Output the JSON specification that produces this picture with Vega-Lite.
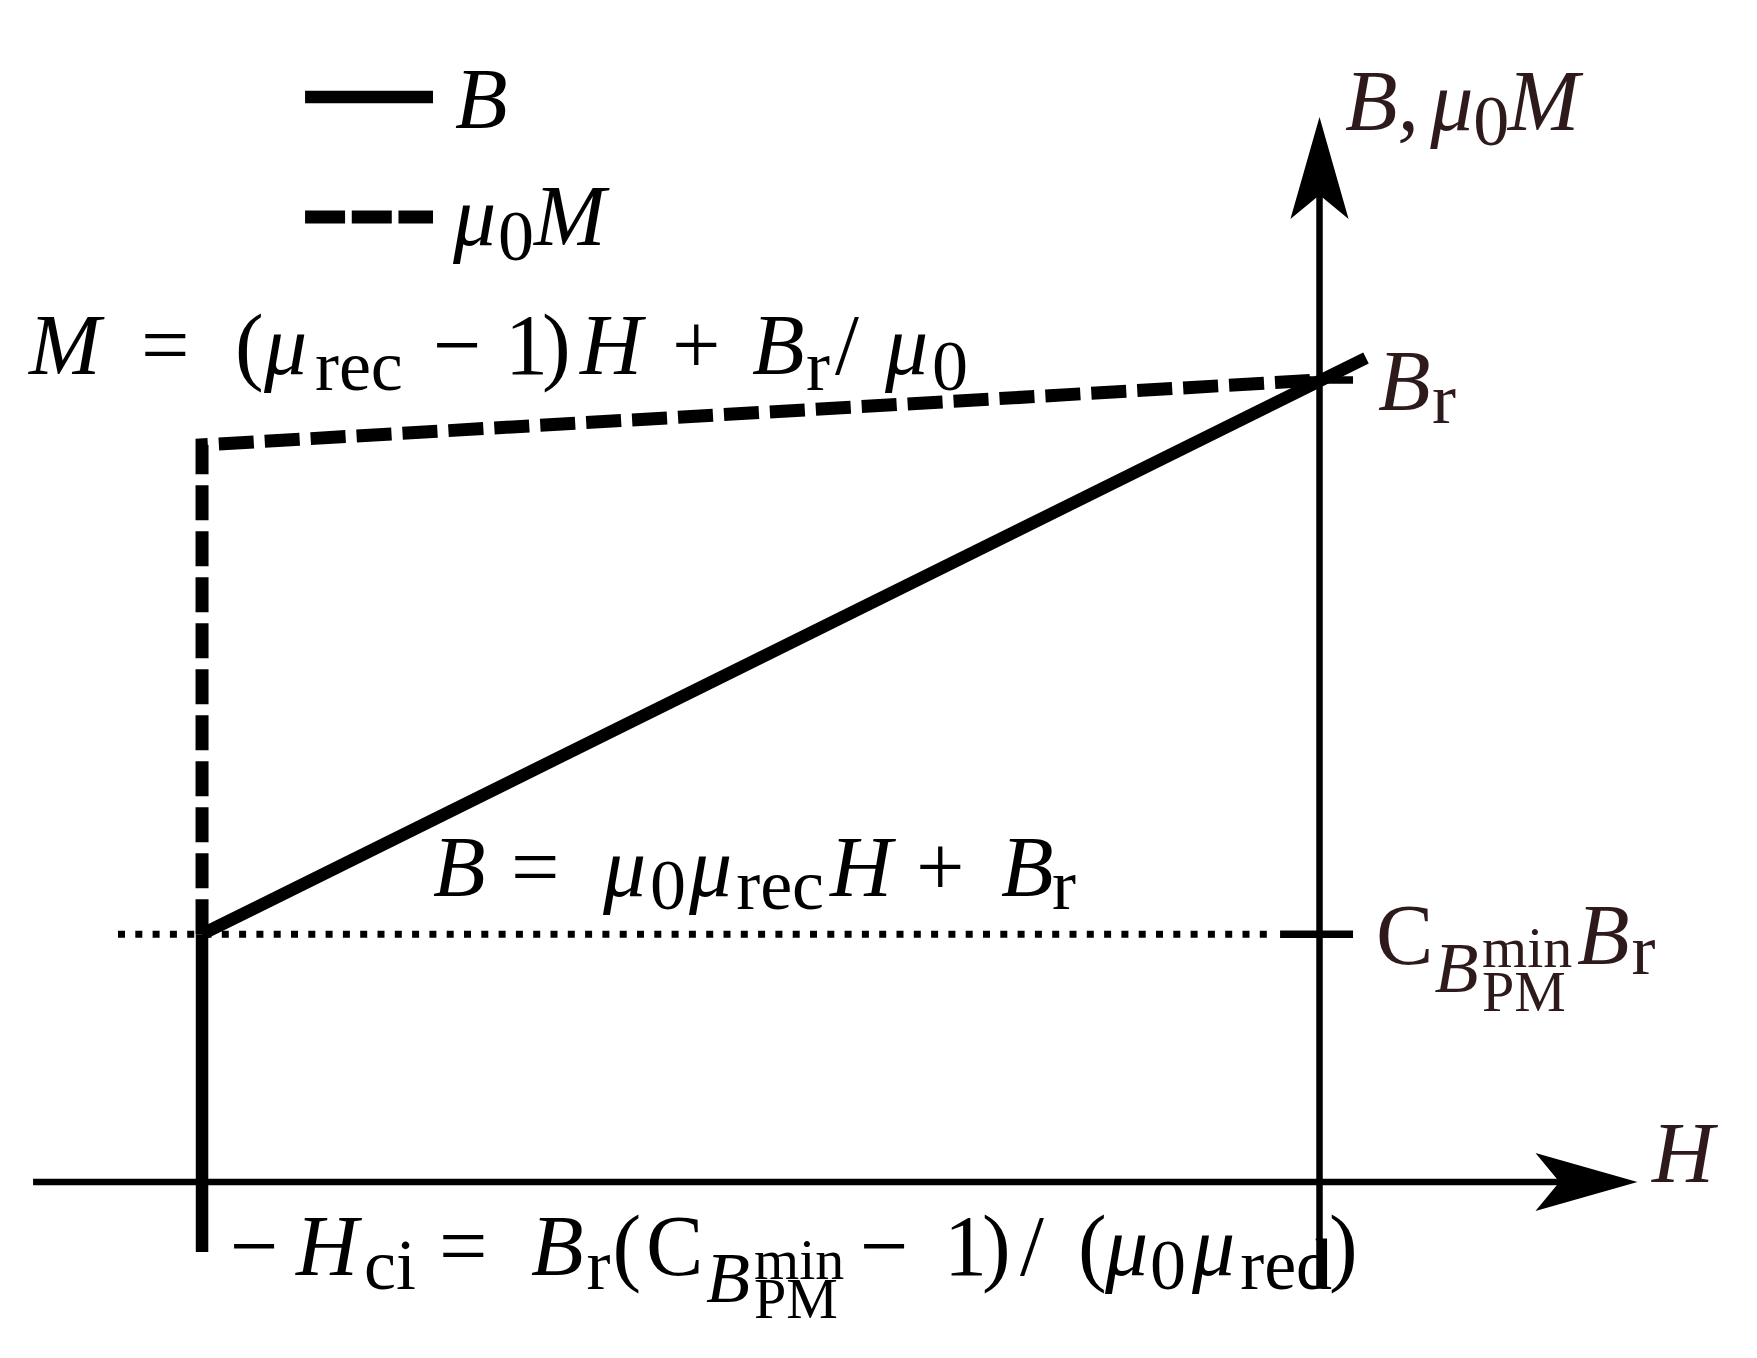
{
  "$schema": "https://vega.github.io/schema/vega-lite/v6.json",
  "width": 1757,
  "height": 1358,
  "autosize": {"type": "fit", "contains": "padding"},
  "padding": 0,
  "background": "white",
  "config": {"view": {"stroke": null}},
  "datasets": {
    "lines": [
      {"g": "B", "c": "solid", "i": 0, "H": -1, "B": 0.309},
      {"g": "B", "c": "solid", "i": 1, "H": 0.0416, "B": 1.0274},
      {"g": "Hci", "c": "solid", "i": 0, "H": -1, "B": -0.0873},
      {"g": "Hci", "c": "solid", "i": 1, "H": -1, "B": 0.309},
      {"g": "legB", "c": "solid", "i": 0, "H": -0.9078, "B": 1.3529},
      {"g": "legB", "c": "solid", "i": 1, "H": -0.7933, "B": 1.3529},
      {"g": "M", "c": "dash", "i": 0, "H": -1, "B": 0.309},
      {"g": "M", "c": "dash", "i": 1, "H": -1, "B": 0.919},
      {"g": "M", "c": "dash", "i": 2, "H": 0, "B": 1.0},
      {"g": "legM", "c": "legdash", "i": 0, "H": -0.9078, "B": 1.2032},
      {"g": "legM", "c": "legdash", "i": 1, "H": -0.7933, "B": 1.2032},
      {"g": "cmin", "c": "dot", "i": 0, "H": -1.0752, "B": 0.309},
      {"g": "cmin", "c": "dot", "i": 1, "H": -0.044, "B": 0.309},
      {"g": "Hax", "c": "axis", "i": 0, "H": -1.1512, "B": 0},
      {"g": "Hax", "c": "axis", "i": 1, "H": 0.217, "B": 0},
      {"g": "Bax", "c": "axis", "i": 0, "H": 0, "B": -0.133},
      {"g": "Bax", "c": "axis", "i": 1, "H": 0, "B": 1.231},
      {"g": "tickC", "c": "tick", "i": 0, "H": -0.0353, "B": 0.309},
      {"g": "tickC", "c": "tick", "i": 1, "H": 0.030, "B": 0.309},
      {"g": "tickBr", "c": "tick", "i": 0, "H": -0.0353, "B": 1},
      {"g": "tickBr", "c": "tick", "i": 1, "H": 0.030, "B": 1}
    ],
    "arrows": [
      {"dir": "up", "H": 0, "B": 1.2643},
      {"dir": "right", "H": 0.2389, "B": 0}
    ],
    "texts": [
      {"t": "B", "H": -0.7736, "B": 1.3142, "lvl": "base", "part": "eq", "kind": "variable"},
      {"t": "μ", "H": -0.7754, "B": 1.1683, "lvl": "base", "part": "eq", "kind": "variable"},
      {"t": "0", "H": -0.7351, "B": 1.1496, "lvl": "sub", "part": "eq", "kind": "symbol"},
      {"t": "M", "H": -0.7030, "B": 1.1683, "lvl": "base", "part": "eq", "kind": "variable"},

      {"t": "B,", "H": 0.0228, "B": 1.3117, "lvl": "base", "part": "axis", "kind": "variable"},
      {"t": "μ", "H": 0.0990, "B": 1.3117, "lvl": "base", "part": "axis", "kind": "variable"},
      {"t": "0", "H": 0.1375, "B": 1.2930, "lvl": "sub", "part": "axis", "kind": "symbol"},
      {"t": "M", "H": 0.1685, "B": 1.3117, "lvl": "base", "part": "axis", "kind": "variable"},

      {"t": "M", "H": -1.1548, "B": 1.0075, "lvl": "base", "part": "eq", "kind": "variable"},
      {"t": "=", "H": -1.0546, "B": 1.0075, "lvl": "base", "part": "eq", "kind": "symbol"},
      {"t": "(", "H": -0.9705, "B": 1.0075, "lvl": "base", "part": "eq", "kind": "symbol"},
      {"t": "μ", "H": -0.9445, "B": 1.0075, "lvl": "base", "part": "eq", "kind": "variable"},
      {"t": "rec", "H": -0.8990, "B": 0.9875, "lvl": "sub", "part": "eq", "kind": "symbol"},
      {"t": "−", "H": -0.7933, "B": 1.0075, "lvl": "base", "part": "eq", "kind": "symbol"},
      {"t": "1", "H": -0.7289, "B": 1.0075, "lvl": "base", "part": "eq", "kind": "symbol"},
      {"t": ")", "H": -0.6958, "B": 1.0075, "lvl": "base", "part": "eq", "kind": "symbol"},
      {"t": "H", "H": -0.6617, "B": 1.0075, "lvl": "base", "part": "eq", "kind": "variable"},
      {"t": "+", "H": -0.5794, "B": 1.0075, "lvl": "base", "part": "eq", "kind": "symbol"},
      {"t": "B", "H": -0.5078, "B": 1.0075, "lvl": "base", "part": "eq", "kind": "variable"},
      {"t": "r", "H": -0.4595, "B": 0.9875, "lvl": "sub", "part": "eq", "kind": "symbol"},
      {"t": "/", "H": -0.4336, "B": 1.0075, "lvl": "base", "part": "eq", "kind": "symbol"},
      {"t": "μ", "H": -0.3888, "B": 1.0075, "lvl": "base", "part": "eq", "kind": "variable"},
      {"t": "0", "H": -0.3468, "B": 0.9875, "lvl": "sub", "part": "eq", "kind": "symbol"},

      {"t": "B", "H": -0.7933, "B": 0.3566, "lvl": "base", "part": "eq", "kind": "variable"},
      {"t": "=", "H": -0.7235, "B": 0.3566, "lvl": "base", "part": "eq", "kind": "symbol"},
      {"t": "μ", "H": -0.6412, "B": 0.3566, "lvl": "base", "part": "eq", "kind": "variable"},
      {"t": "0", "H": -0.5991, "B": 0.3404, "lvl": "sub", "part": "eq", "kind": "symbol"},
      {"t": "μ", "H": -0.5642, "B": 0.3566, "lvl": "base", "part": "eq", "kind": "variable"},
      {"t": "rec", "H": -0.5220, "B": 0.3404, "lvl": "sub", "part": "eq", "kind": "symbol"},
      {"t": "H", "H": -0.4380, "B": 0.3566, "lvl": "base", "part": "eq", "kind": "variable"},
      {"t": "+", "H": -0.3611, "B": 0.3566, "lvl": "base", "part": "eq", "kind": "symbol"},
      {"t": "B", "H": -0.2850, "B": 0.3566, "lvl": "base", "part": "eq", "kind": "variable"},
      {"t": "r", "H": -0.2394, "B": 0.3404, "lvl": "sub", "part": "eq", "kind": "symbol"},

      {"t": "B", "H": 0.0523, "B": 0.9626, "lvl": "base", "part": "axis", "kind": "variable"},
      {"t": "r", "H": 0.1007, "B": 0.9464, "lvl": "sub", "part": "axis", "kind": "symbol"},

      {"t": "C", "H": 0.0506, "B": 0.2718, "lvl": "base", "part": "axis", "kind": "symbol"},
      {"t": "B", "H": 0.1030, "B": 0.2369, "lvl": "sub", "part": "axis", "kind": "variable"},
      {"t": "min", "H": 0.1455, "B": 0.2681, "lvl": "subsub", "part": "axis", "kind": "symbol"},
      {"t": "PM", "H": 0.1455, "B": 0.2132, "lvl": "subsub", "part": "axis", "kind": "symbol"},
      {"t": "B", "H": 0.2305, "B": 0.2718, "lvl": "base", "part": "axis", "kind": "variable"},
      {"t": "r", "H": 0.2792, "B": 0.2594, "lvl": "sub", "part": "axis", "kind": "symbol"},

      {"t": "H", "H": 0.2975, "B": 0, "lvl": "base", "part": "axis", "kind": "variable"},

      {"t": "−", "H": -0.9749, "B": -0.1160, "lvl": "base", "part": "eq", "kind": "symbol"},
      {"t": "H", "H": -0.9159, "B": -0.1160, "lvl": "base", "part": "eq", "kind": "variable"},
      {"t": "ci", "H": -0.8550, "B": -0.1334, "lvl": "sub", "part": "eq", "kind": "symbol"},
      {"t": "=", "H": -0.7879, "B": -0.1160, "lvl": "base", "part": "eq", "kind": "symbol"},
      {"t": "B", "H": -0.7056, "B": -0.1160, "lvl": "base", "part": "eq", "kind": "variable"},
      {"t": "r", "H": -0.6560, "B": -0.1334, "lvl": "sub", "part": "eq", "kind": "symbol"},
      {"t": "(", "H": -0.6327, "B": -0.1160, "lvl": "base", "part": "eq", "kind": "symbol"},
      {"t": "C", "H": -0.6027, "B": -0.1160, "lvl": "base", "part": "eq", "kind": "symbol"},
      {"t": "B", "H": -0.5490, "B": -0.1496, "lvl": "sub", "part": "eq", "kind": "variable"},
      {"t": "min", "H": -0.5060, "B": -0.1209, "lvl": "subsub", "part": "eq", "kind": "symbol"},
      {"t": "PM", "H": -0.5060, "B": -0.1696, "lvl": "subsub", "part": "eq", "kind": "symbol"},
      {"t": "−", "H": -0.4112, "B": -0.1160, "lvl": "base", "part": "eq", "kind": "symbol"},
      {"t": "1", "H": -0.3360, "B": -0.1160, "lvl": "base", "part": "eq", "kind": "symbol"},
      {"t": ")", "H": -0.3020, "B": -0.1160, "lvl": "base", "part": "eq", "kind": "symbol"},
      {"t": "/", "H": -0.2680, "B": -0.1160, "lvl": "base", "part": "eq", "kind": "symbol"},
      {"t": "(", "H": -0.2161, "B": -0.1160, "lvl": "base", "part": "eq", "kind": "symbol"},
      {"t": "μ", "H": -0.1919, "B": -0.1160, "lvl": "base", "part": "eq", "kind": "variable"},
      {"t": "0", "H": -0.1517, "B": -0.1334, "lvl": "sub", "part": "eq", "kind": "symbol"},
      {"t": "μ", "H": -0.1141, "B": -0.1160, "lvl": "base", "part": "eq", "kind": "variable"},
      {"t": "red", "H": -0.0710, "B": -0.1334, "lvl": "sub", "part": "eq", "kind": "symbol"},
      {"t": ")", "H": 0.0085, "B": -0.1160, "lvl": "base", "part": "eq", "kind": "symbol"}
    ]
  },
  "encoding": {
    "x": {"field": "H", "type": "quantitative", "axis": null, "scale": {"domain": [-1.1808, 0.3915], "nice": false, "zero": false}},
    "y": {"field": "B", "type": "quantitative", "axis": null, "scale": {"domain": [-0.2195, 1.4738], "nice": false, "zero": false}}
  },
  "layer": [
    {
      "data": {"name": "lines"},
      "transform": [{"filter": "datum.c === 'axis'"}],
      "mark": {"type": "line", "color": "black", "strokeWidth": 6.5, "strokeCap": "butt"},
      "encoding": {"detail": {"field": "g"}, "order": {"field": "i"}}
    },
    {
      "data": {"name": "lines"},
      "transform": [{"filter": "datum.c === 'tick'"}],
      "mark": {"type": "line", "color": "black", "strokeWidth": 7.5, "strokeCap": "butt"},
      "encoding": {"detail": {"field": "g"}, "order": {"field": "i"}}
    },
    {
      "data": {"name": "lines"},
      "transform": [{"filter": "datum.c === 'dot'"}],
      "mark": {"type": "line", "color": "black", "strokeWidth": 7, "strokeCap": "butt", "strokeDash": [7, 10.3]},
      "encoding": {"detail": {"field": "g"}, "order": {"field": "i"}}
    },
    {
      "data": {"name": "lines"},
      "transform": [{"filter": "datum.c === 'dash'"}],
      "mark": {"type": "line", "color": "black", "strokeWidth": 13, "strokeCap": "butt", "strokeJoin": "miter", "strokeDash": [35, 11]},
      "encoding": {"detail": {"field": "g"}, "order": {"field": "i"}}
    },
    {
      "data": {"name": "lines"},
      "transform": [{"filter": "datum.c === 'legdash'"}],
      "mark": {"type": "line", "color": "black", "strokeWidth": 13, "strokeCap": "butt", "strokeDash": [40, 6.7]},
      "encoding": {"detail": {"field": "g"}, "order": {"field": "i"}}
    },
    {
      "data": {"name": "lines"},
      "transform": [{"filter": "datum.c === 'solid'"}],
      "mark": {"type": "line", "color": "black", "strokeWidth": 12.5, "strokeCap": "butt"},
      "encoding": {"detail": {"field": "g"}, "order": {"field": "i"}}
    },
    {
      "data": {"name": "arrows"},
      "transform": [{"filter": "datum.dir === 'up'"}],
      "mark": {"type": "point", "shape": "M0,-1L0.57,1L0,0.53L-0.57,1Z", "size": 10404, "filled": true, "color": "black", "opacity": 1, "strokeWidth": 0}
    },
    {
      "data": {"name": "arrows"},
      "transform": [{"filter": "datum.dir === 'right'"}],
      "mark": {"type": "point", "shape": "M1,0L-1,0.57L-0.53,0L-1,-0.57Z", "size": 10404, "filled": true, "color": "black", "opacity": 1, "strokeWidth": 0}
    },
    {
      "data": {"name": "texts"},
      "transform": [{"filter": "datum.kind === 'variable'"}],
      "mark": {"type": "text", "font": "Liberation Serif", "fontStyle": "italic", "align": "left", "baseline": "alphabetic"},
      "encoding": {
        "text": {"field": "t"},
        "color": {"field": "part", "type": "nominal", "scale": {"domain": ["axis", "eq"], "range": ["#2e1a1a", "#000000"]}, "legend": null},
        "size": {"field": "lvl", "type": "ordinal", "scale": {"domain": ["base", "sub", "subsub"], "range": [86, 58, 45]}, "legend": null}
      }
    },
    {
      "data": {"name": "texts"},
      "transform": [{"filter": "datum.kind === 'symbol'"}],
      "mark": {"type": "text", "font": "Liberation Serif", "fontStyle": "normal", "align": "left", "baseline": "alphabetic"},
      "encoding": {
        "text": {"field": "t"},
        "color": {"field": "part", "type": "nominal", "scale": {"domain": ["axis", "eq"], "range": ["#2e1a1a", "#000000"]}, "legend": null},
        "size": {"field": "lvl", "type": "ordinal", "scale": {"domain": ["base", "sub", "subsub"], "range": [86, 58, 45]}, "legend": null}
      }
    }
  ]
}
